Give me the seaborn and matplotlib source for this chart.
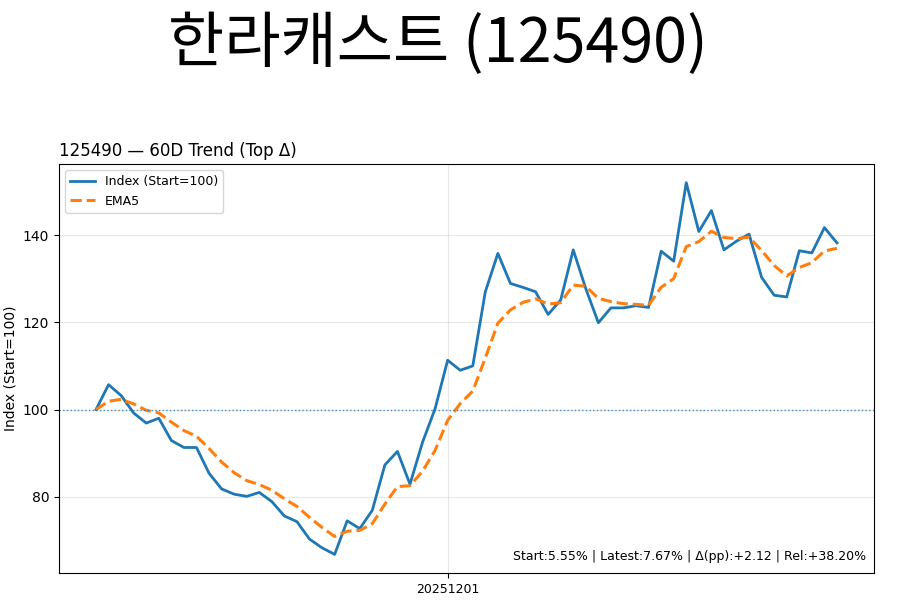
import matplotlib
matplotlib.use("Agg")
import matplotlib.pyplot as plt
import numpy as np
import pandas as pd
import seaborn as sns

# Data (60 trading days, index start = 100)
index_values = [
    100.0, 105.7, 103.2, 99.2, 96.9, 98.0, 92.9, 91.3, 91.3, 85.4,
    81.8, 80.6, 80.1, 81.0, 78.9, 75.6, 74.3, 70.3, 68.3, 66.8,
    74.5, 72.7, 76.9, 87.3, 90.4, 82.9, 92.5, 100.2, 111.3, 109.0,
    110.0, 127.0, 135.8, 128.9, 128.0, 127.0, 121.8, 125.1, 136.6, 127.7,
    119.9, 123.3, 123.3, 123.8, 123.4, 136.3, 134.0, 152.0, 140.8, 145.6,
    136.6, 138.6, 140.2, 130.3, 126.2, 125.8, 136.4, 135.9, 141.7, 138.2,
]
tick_label = "20251201"
tick_pos = 28

title_main = "한라캐스트 (125490)"
title_axes = "125490 — 60D Trend (Top Δ)"
stats_text = "Start:5.55% | Latest:7.67% | Δ(pp):+2.12 | Rel:+38.20%"

df = pd.DataFrame({"x": np.arange(len(index_values)), "idx": index_values})
df["ema5"] = df["idx"].ewm(span=5, adjust=False).mean()

plt.rcParams["font.family"] = ["DejaVu Sans", "Noto Sans CJK KR"]

fig = plt.figure(figsize=(8.99, 6.10), dpi=100)
ax = fig.add_axes([0.0656, 0.0607, 0.9066, 0.6703])

sns.lineplot(data=df, x="x", y="idx", ax=ax, color="C0", linewidth=2,
             label="Index (Start=100)")
sns.lineplot(data=df, x="x", y="ema5", ax=ax, color="C1", linewidth=2.2,
             linestyle="--", label="EMA5")
ax.axhline(100, color="C0", linestyle=":", linewidth=1, alpha=0.8)

ax.grid(True, alpha=0.3)
ax.set_xticks([tick_pos])
ax.set_xticklabels([tick_label], fontsize=9)
ax.set_xlabel("")
ax.set_ylabel("Index (Start=100)", fontsize=10)
ax.set_title(title_axes, loc="left", fontsize=12)
ax.legend(loc="upper left", fontsize=9)
ax.text(0.99, 0.025, stats_text, transform=ax.transAxes, ha="right",
        va="bottom", fontsize=9)

fig.text(0.487, 0.977, title_main, ha="center", va="top", fontsize=44,
         family=["Noto Sans CJK KR", "DejaVu Sans"])

fig.savefig("out.png", dpi=100)
